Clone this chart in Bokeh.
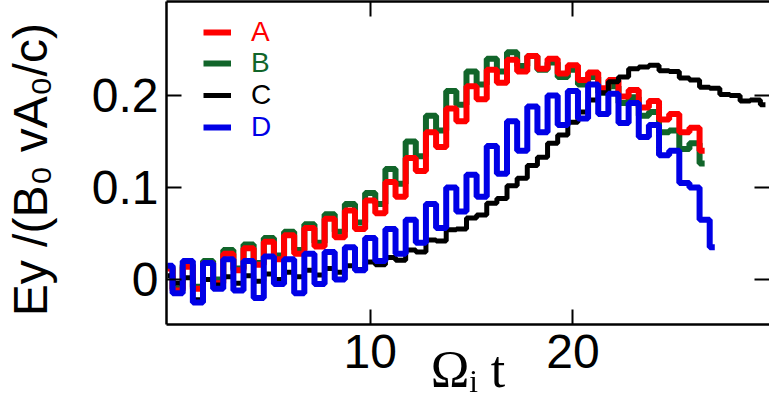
import numpy as np
from bokeh.plotting import figure
from bokeh.models import Range1d, FixedTicker, LinearAxis, Legend, LegendItem
from bokeh.embed import file_html
from bokeh.resources import INLINE

# ---- data ----
t_grid = [0.0, 0.5, 1.0, 1.5, 2.0, 2.5, 3.0, 3.5, 4.0, 4.5,
          5.0, 5.5, 6.0, 6.5, 7.0, 7.5, 8.0, 8.5, 9.0, 9.5,
          10.0, 10.5, 11.0, 11.5, 12.0, 12.5, 13.0, 13.5, 14.0, 14.5,
          15.0, 15.5, 16.0, 16.5, 17.0, 17.5, 18.0, 18.5, 19.0, 19.5,
          20.0, 20.5, 21.0, 21.5, 22.0, 22.5, 23.0, 23.5, 24.0, 24.5,
          25.0, 25.5, 26.0, 26.5, 27.0, 27.5, 28.0, 28.5, 29.0, 29.5]

series_A = [0.012, -0.012, 0.014, -0.010, 0.018, -0.004, 0.028, 0.010, 0.034, 0.016,
            0.041, 0.022, 0.048, 0.028, 0.056, 0.036, 0.066, 0.046, 0.075, 0.055,
            0.086, 0.072, 0.106, 0.090, 0.132, 0.118, 0.160, 0.144, 0.186, 0.172,
            0.210, 0.196, 0.228, 0.214, 0.239, 0.226, 0.243, 0.229, 0.240, 0.224,
            0.233, 0.217, 0.225, 0.208, 0.217, 0.199, 0.206, 0.187, 0.194, 0.174,
            0.180, 0.160, 0.165, 0.140]

series_B = [0.014, -0.010, 0.016, -0.008, 0.020, 0.000, 0.032, 0.012, 0.038, 0.018,
            0.045, 0.026, 0.052, 0.032, 0.060, 0.040, 0.071, 0.052, 0.082, 0.062,
            0.094, 0.082, 0.120, 0.104, 0.150, 0.134, 0.178, 0.162, 0.205, 0.190,
            0.226, 0.212, 0.240, 0.226, 0.247, 0.232, 0.243, 0.228, 0.236, 0.220,
            0.228, 0.212, 0.220, 0.203, 0.210, 0.192, 0.198, 0.178, 0.182, 0.160,
            0.162, 0.142, 0.148, 0.126]

series_C = [0.004, -0.004, 0.002, -0.022, 0.000, -0.006, 0.003, -0.004, 0.004, -0.002,
            0.006, 0.000, 0.008, 0.003, 0.010, 0.005, 0.012, 0.008, 0.015, 0.011,
            0.019, 0.016, 0.024, 0.021, 0.032, 0.030, 0.043, 0.042, 0.054, 0.055,
            0.067, 0.070, 0.083, 0.088, 0.102, 0.110, 0.124, 0.133, 0.148, 0.157,
            0.171, 0.182, 0.195, 0.203, 0.215, 0.220, 0.229, 0.231, 0.233, 0.227,
            0.226, 0.219, 0.217, 0.209, 0.208, 0.201, 0.200, 0.194, 0.195, 0.190]

series_D = [0.015, -0.015, 0.020, -0.025, 0.018, -0.010, 0.022, -0.012, 0.020, -0.020,
            0.025, -0.005, 0.022, -0.015, 0.028, -0.005, 0.030, 0.000, 0.035, 0.010,
            0.045, 0.020, 0.055, 0.028, 0.065, 0.040, 0.082, 0.056, 0.100, 0.074,
            0.114, 0.090, 0.145, 0.115, 0.172, 0.140, 0.188, 0.160, 0.200, 0.168,
            0.205, 0.175, 0.212, 0.180, 0.202, 0.170, 0.192, 0.155, 0.168, 0.135,
            0.140, 0.105, 0.100, 0.065, 0.035]

names = ["A", "B", "C", "D"]
colors = {"A": "#ff0000", "B": "#11652a", "C": "#000000", "D": "#0000e6"}
widths = {"A": 6, "B": 6, "C": 5, "D": 6}
x_ticks = [10, 20]
y_ticks = [0, 0.1, 0.2]
y_tick_labels = {0: "0", 0.1: "0.1", 0.2: "0.2"}
x_title = "\u03a9\u1d62 t"
y_title = " Ey /(B\u2080 vA\u2080/c)"

FONT = "Liberation Sans"

p = figure(width=769, height=401,
           x_range=Range1d(-0.05, 29.7), y_range=Range1d(-0.0489, 0.3022),
           output_backend="svg", toolbar_location=None,
           min_border_left=162, min_border_right=0, min_border_top=1, min_border_bottom=77)
p.outline_line_color = None
p.grid.visible = False
p.background_fill_color = "white"
p.border_fill_color = "white"

data = {"A": series_A, "B": series_B, "C": series_C, "D": series_D}
renderers = {}
for nm in ["B", "A", "C", "D"]:
    vals = data[nm]
    renderers[nm] = p.step(t_grid[:len(vals)], vals, mode="center",
                           line_color=colors[nm], line_width=widths[nm])

def style_axis(ax, ticks, show_labels=True, line=True):
    ax.major_tick_in = 15
    ax.major_tick_out = 0
    ax.minor_tick_in = 0
    ax.minor_tick_out = 0
    ax.major_tick_line_width = 2
    ax.major_tick_line_color = "black"
    ax.axis_line_width = 2.5
    ax.axis_line_color = "black" if line else None
    ax.major_label_text_font = FONT
    ax.major_label_text_font_size = "48px"
    ax.major_label_text_color = "black"
    ax.axis_label_text_color = "black"
    ax.axis_label_text_font_style = "normal"
    if not show_labels:
        ax.major_label_overrides = {tk: "" for tk in ticks}
        ax.major_label_standoff = 0

xa = p.xaxis[0]
xa.ticker = FixedTicker(ticks=x_ticks)
style_axis(xa, x_ticks)
xa.major_label_standoff = 10
xa.axis_label = x_title
xa.axis_label_text_font = "Liberation Serif"
xa.axis_label_text_font_size = "52px"
xa.axis_label_standoff = -30

ya = p.yaxis[0]
ya.ticker = FixedTicker(ticks=y_ticks)
ya.major_label_overrides = y_tick_labels
style_axis(ya, y_ticks)
ya.major_label_standoff = 8
ya.axis_label = y_title
ya.axis_label_text_font = FONT
ya.axis_label_text_font_size = "48px"
ya.axis_label_standoff = 32

top = LinearAxis(ticker=FixedTicker(ticks=x_ticks))
style_axis(top, x_ticks, show_labels=False)
p.add_layout(top, "above")

right = LinearAxis(ticker=FixedTicker(ticks=y_ticks))
style_axis(right, y_ticks, show_labels=False, line=False)
p.add_layout(right, "right")

# ---- legends (one per series so that each label takes its colour) ----
legend_y = {"A": 276, "B": 245, "C": 213, "D": 181}
for nm in names:
    lg = Legend(items=[LegendItem(label=nm, renderers=[renderers[nm]])],
                location=(37, legend_y[nm]),
                label_text_color=colors[nm], label_text_font=FONT,
                label_text_font_size="28px", glyph_width=28, glyph_height=20,
                label_standoff=20, padding=0, margin=0, spacing=0,
                border_line_color=None, background_fill_alpha=0)
    p.add_layout(lg)

open("out.html", "w").write(file_html(p, INLINE))
